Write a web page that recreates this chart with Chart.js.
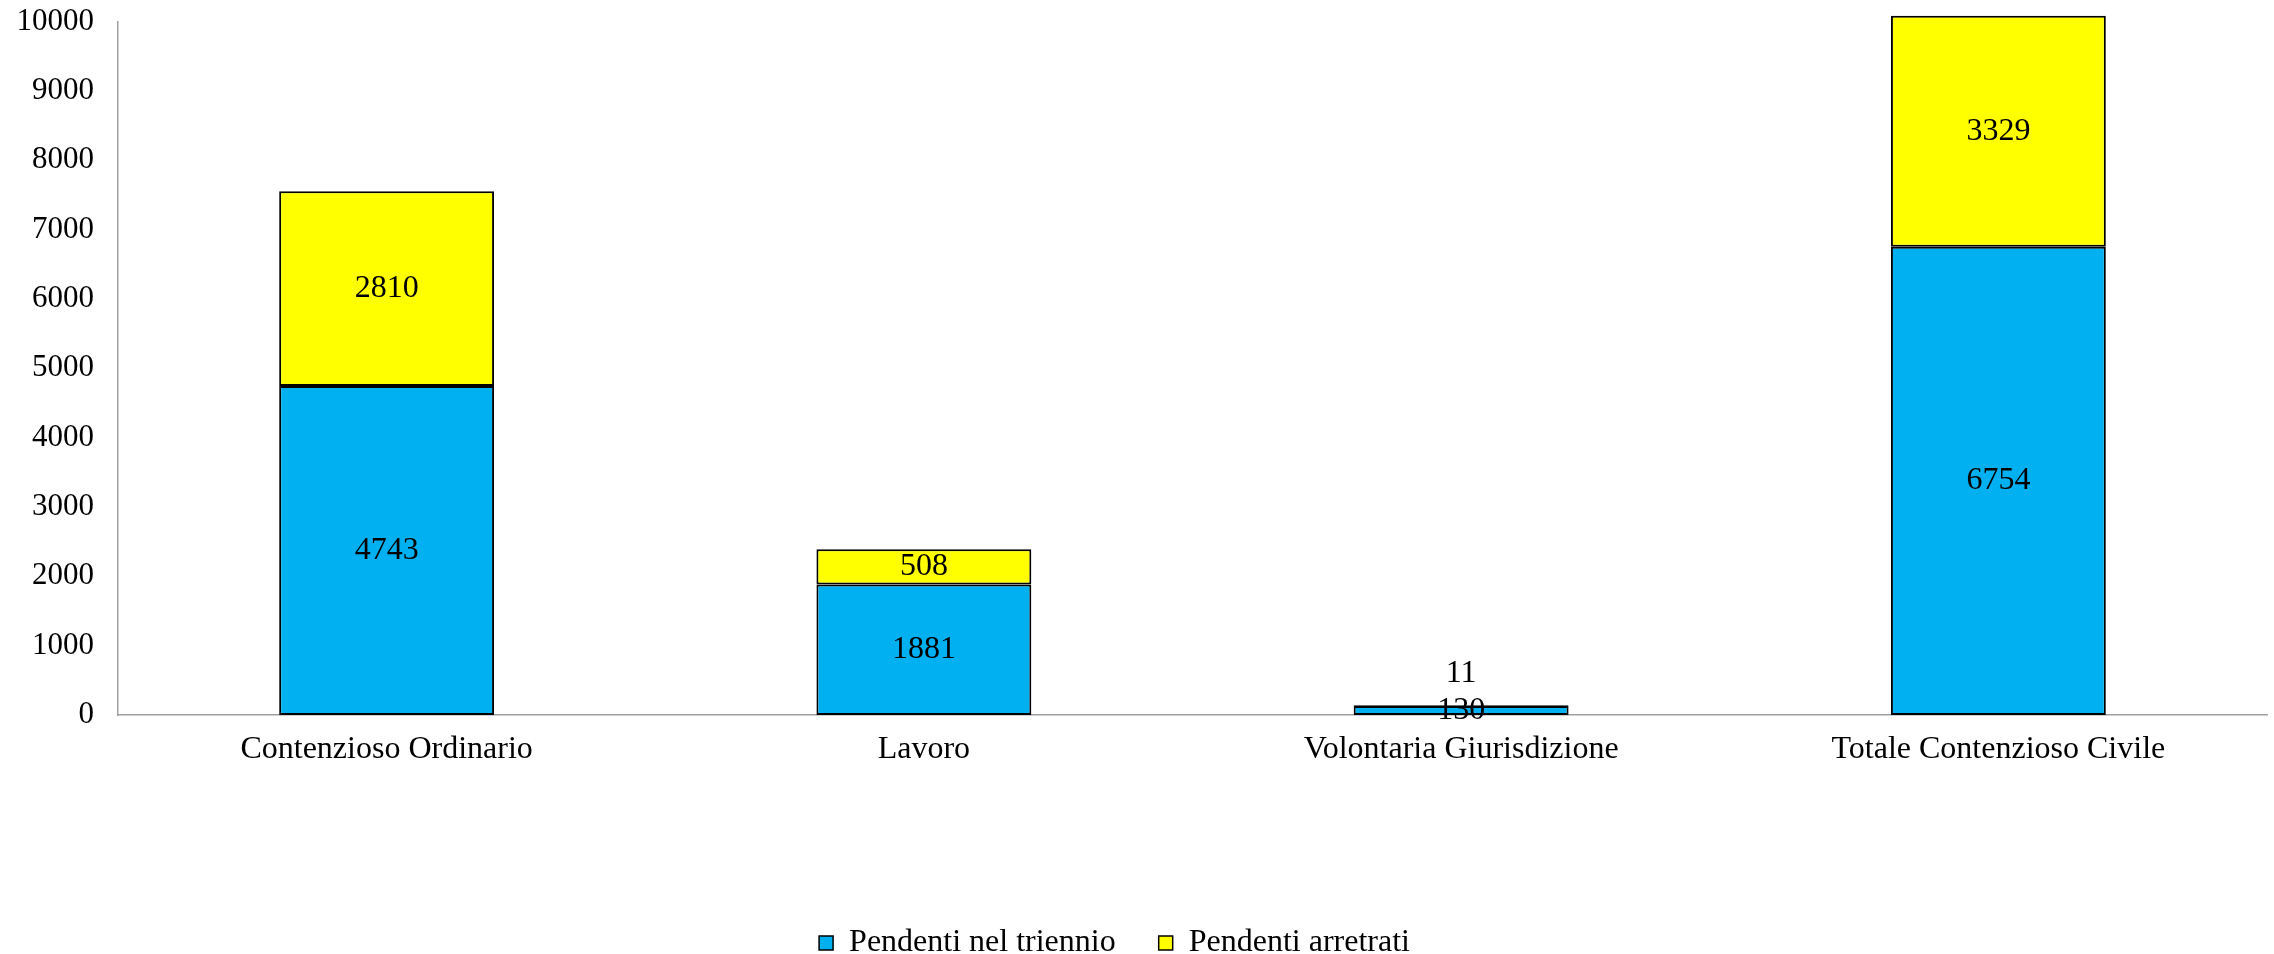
<!DOCTYPE html>
<html>
<head>
<meta charset="utf-8">
<script src="https://cdn.jsdelivr.net/npm/chart.js@4.4.1/dist/chart.umd.min.js"></script>
<style>
  html, body { margin: 0; padding: 0; background: #ffffff; }
  #wrap { width: 2274px; height: 954px; }
</style>
</head>
<body>
<div id="wrap"><canvas id="c" width="2274" height="954"></canvas></div>
<script>
const categories = ["Contenzioso Ordinario", "Lavoro", "Volontaria Giurisdizione", "Totale Contenzioso Civile"];
const pendentiTriennio = [4743, 1881, 130, 6754];
const pendentiArretrati = [2810, 508, 11, 3329];
const seriesNames = ["Pendenti nel triennio", "Pendenti arretrati"];
const yMin = 0, yMax = 10000, yStep = 1000;

const FONT = "'Liberation Serif', 'Times New Roman', serif";
const FS = 32;

const valueLabels = {
  id: 'valueLabels',
  afterDatasetsDraw(chart) {
    const ctx = chart.ctx;
    ctx.save();
    ctx.font = FS + 'px ' + FONT;
    ctx.fillStyle = '#000';
    ctx.textAlign = 'center';
    ctx.textBaseline = 'middle';
    const prevY = {};
    chart.data.datasets.forEach((ds, di) => {
      const meta = chart.getDatasetMeta(di);
      meta.data.forEach((el, i) => {
        const p = el.getProps(['x', 'y', 'base'], true);
        let y = (p.y + p.base) / 2;
        if (prevY[i] !== undefined && prevY[i] - y < FS * 1.15) {
          y = prevY[i] - FS * 1.15;
        }
        prevY[i] = y;
        ctx.fillText(String(ds.data[i]), p.x, y);
      });
    });
    ctx.restore();
  }
};

const legendShift = {
  id: 'legendShift',
  afterLayout(chart) {
    const lg = chart.legend;
    if (lg) { lg.left -= 19; lg.right -= 19; }
  }
};

new Chart(document.getElementById('c'), {
  type: 'bar',
  data: {
    labels: categories,
    datasets: [
      { label: seriesNames[0], data: pendentiTriennio, backgroundColor: '#00B0F0', borderColor: '#000000', borderWidth: 2, borderSkipped: false, clip: false },
      { label: seriesNames[1], data: pendentiArretrati, backgroundColor: '#FFFF00', borderColor: '#000000', borderWidth: 2, borderSkipped: false, clip: false }
    ]
  },
  options: {
    responsive: false,
    animation: false,
    devicePixelRatio: 1,
    layout: { padding: { top: 0, right: 7, bottom: -15, left: 0 } },
    datasets: { bar: { categoryPercentage: 1.0, barPercentage: 0.4 } },
    scales: {
      x: {
        stacked: true,
        grid: { display: false, drawTicks: false },
        border: { display: true, color: '#a0a0a0', width: 1.5 },
        ticks: { color: '#000', font: { family: FONT, size: FS }, padding: 15, maxRotation: 0, autoSkip: false },
        afterFit(scale) { scale.height = 169; }
      },
      y: {
        stacked: true,
        min: yMin, max: yMax,
        grid: { display: false, drawTicks: true, tickLength: 21 },
        border: { display: true, color: '#a0a0a0', width: 1.5 },
        ticks: { stepSize: yStep, color: '#000', font: { family: FONT, size: 31 }, padding: 3,
                 callback: (v) => String(v) },
        afterFit(scale) { scale.width = 118; }
      }
    },
    plugins: {
      tooltip: { enabled: false },
      legend: {
        position: 'bottom',
        labels: {
          color: '#000',
          font: { family: FONT, size: FS },
          boxWidth: 14, boxHeight: 14,
          padding: 43,
          generateLabels(chart) {
            return chart.data.datasets.map((ds, i) => ({
              text: ds.label, fillStyle: ds.backgroundColor, strokeStyle: '#000', lineWidth: 1.5, datasetIndex: i, hidden: false
            }));
          }
        }
      }
    }
  },
  plugins: [valueLabels, legendShift]
});
</script>
</body>
</html>
